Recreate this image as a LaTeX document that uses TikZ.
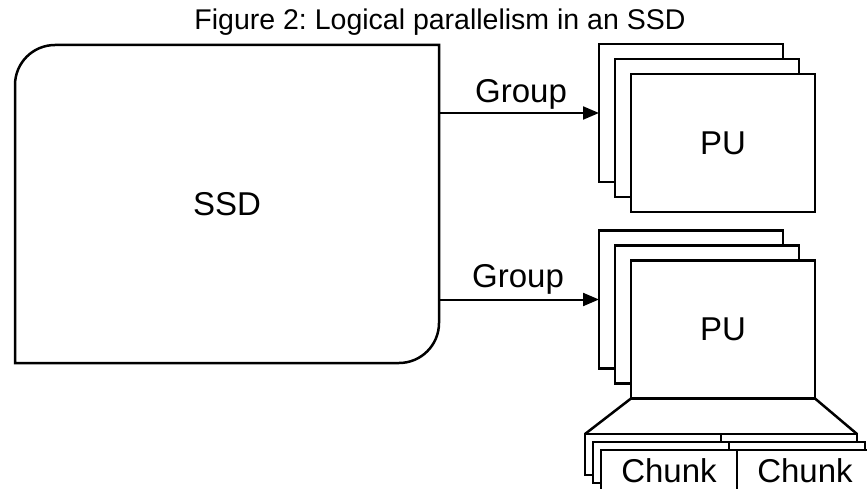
\documentclass[tikz,border=0pt]{standalone}
\usepackage{fontspec}
\setmainfont{Liberation Sans}
\frenchspacing
\usetikzlibrary{arrows.meta}
\begin{document}
\begin{tikzpicture}[x=1pt,y=1pt,
  ln/.style={line width=2.5pt},
  big/.style={font=\fontsize{33}{38}\selectfont},
  pubox/.style={ln, draw, fill=white, minimum width=184pt, minimum height=138pt, inner sep=0pt, outer sep=0pt, big},
  chunkbox/.style={ln, draw, fill=white, minimum width=136pt, minimum height=41pt, inner sep=0pt, outer sep=0pt, big},
  grp/.style={big, anchor=base},
  conn/.style={line width=2pt, -{Triangle[length=16pt,width=13pt]}}
]
\useasboundingbox (0,0) rectangle (867,488);
\clip (0,0) rectangle (867,488);

% title
\node[font=\fontsize{28.5}{33}\selectfont, anchor=base] (title) at (440,458) {Figure 2: Logical parallelism in an SSD};

% SSD
\node[minimum width=424pt, minimum height=318pt, inner sep=0pt, outer sep=0pt, big] (ssd) at (227,284) {SSD};
\draw[ln] (ssd.south west) -- ([yshift=-40pt]ssd.north west)
  arc[start angle=180, end angle=90, radius=40pt] -- (ssd.north east)
  -- ([yshift=40pt]ssd.south east)
  arc[start angle=0, end angle=-90, radius=40pt] -- cycle;

% upper PU stack
\node[pubox] (pua) at (691,375) {};
\node[pubox] (pub) at (707,360) {};
\node[pubox] (puc) at (723,345) {PU};

% lower PU stack
\node[pubox] (pla) at (691,188.5) {};
\node[pubox] (plb) at (707,173.5) {};
\node[pubox] (plc) at (723,158.5) {PU};

% connectors
\draw[conn] (ssd.east |- pua.west) -- (pua.west);
\draw[conn] (ssd.east |- pla.west) -- (pla.west);
\node[grp] (g1) at (521,385.3) {Group};
\node[grp] (g2) at (518,200.3) {Group};

% chunks
\node[chunkbox] (ca1) at (653,33.5) {};
\node[chunkbox] (cb1) at (789,33.5) {};
\node[chunkbox] (ca2) at (661,25.5) {};
\node[chunkbox] (cb2) at (797,25.5) {};
\node[chunkbox] (ca3) at (669,17.5) {Chunk};
\node[chunkbox] (cb3) at (805,17.5) {Chunk};

\draw[ln] (plc.south west) -- (ca1.north west);
\draw[ln] (plc.south east) -- (cb1.north east);
\end{tikzpicture}
\end{document}
